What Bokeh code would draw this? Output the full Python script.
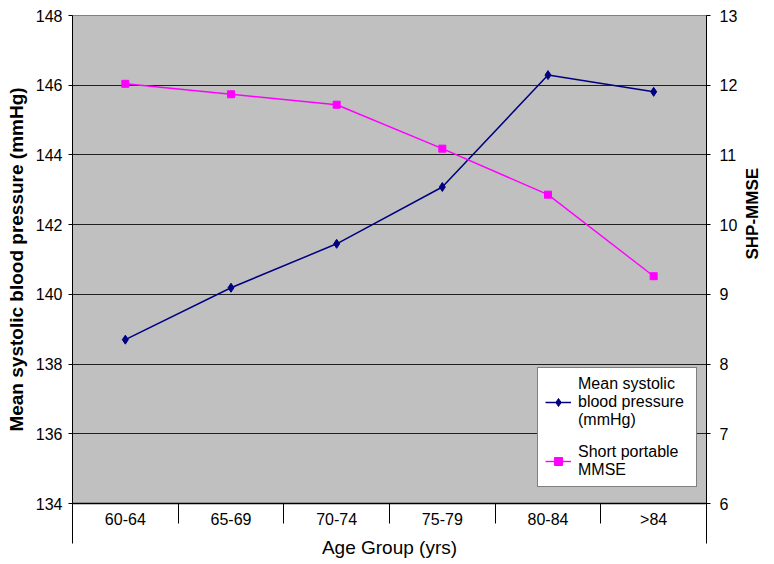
import math
from bokeh.plotting import figure
from bokeh.models import Range1d, LinearAxis, FixedTicker, Legend, LegendItem, Grid
from bokeh.embed import file_html
from bokeh.resources import INLINE

# ---- data ----
age_groups = ["60-64", "65-69", "70-74", "75-79", "80-84", ">84"]
mean_sbp = [138.70, 140.19, 141.45, 143.08, 146.29, 145.81]   # left axis (mmHg)
shp_mmse = [12.02, 11.87, 11.72, 11.09, 10.43, 9.26]           # right axis
left_ticks = [134, 136, 138, 140, 142, 144, 146, 148]
right_ticks = [6, 7, 8, 9, 10, 11, 12, 13]

FONT = "Liberation Sans"
n = len(age_groups)
xc = [i + 0.5 for i in range(n)]
bounds = list(range(n + 1))

p = figure(width=774, height=564, output_backend="svg", toolbar_location=None,
           x_range=Range1d(0, n), y_range=Range1d(left_ticks[0], left_ticks[-1]),
           min_border_left=72, min_border_right=63, min_border_top=15, min_border_bottom=61,
           x_axis_location=None, y_axis_location=None)
p.background_fill_color = "#C0C0C0"
p.border_fill_color = "white"
p.outline_line_color = "#808080"
p.outline_line_width = 1
p.extra_y_ranges = {"mmse": Range1d(right_ticks[0], right_ticks[-1])}

# left axis
ly = LinearAxis(ticker=FixedTicker(ticks=left_ticks, minor_ticks=[]),
                axis_label="Mean systolic blood pressure (mmHg)")
ly.axis_line_color = "black"
ly.major_tick_out = 4
ly.major_tick_in = 0
ly.major_tick_line_color = "black"
ly.major_label_standoff = 6
ly.major_label_text_font = FONT
ly.major_label_text_font_size = "16px"
ly.major_label_text_color = "black"
ly.axis_label_text_font = FONT
ly.axis_label_text_font_size = "19px"
ly.axis_label_text_font_style = "bold"
ly.axis_label_text_color = "black"
ly.axis_label_standoff = 6
p.add_layout(ly, "left")

# right axis
ry = LinearAxis(y_range_name="mmse", ticker=FixedTicker(ticks=right_ticks, minor_ticks=[]),
                axis_label="SHP-MMSE")
ry.axis_line_color = "black"
ry.major_tick_out = 4
ry.major_tick_in = 0
ry.major_tick_line_color = "black"
ry.major_label_standoff = 9
ry.major_label_text_font = FONT
ry.major_label_text_font_size = "16px"
ry.major_label_text_color = "black"
ry.axis_label_text_font = FONT
ry.axis_label_text_font_size = "17px"
ry.axis_label_text_font_style = "bold"
ry.axis_label_text_color = "black"
ry.axis_label_standoff = 12
ry.axis_label_orientation = math.pi / 2   # read bottom-to-top, like the reference
p.add_layout(ry, "right")

# category axis (labels in centres, separators at boundaries)
bx = LinearAxis(ticker=FixedTicker(ticks=xc, minor_ticks=bounds))
bx.major_label_overrides = {c: lab for c, lab in zip(xc, age_groups)}
bx.axis_line_color = "black"
bx.axis_line_width = 1.5
bx.major_tick_line_color = None
bx.major_tick_out = 0
bx.major_tick_in = 0
bx.minor_tick_line_color = "black"
bx.minor_tick_out = 20
bx.minor_tick_in = 0
bx.major_label_standoff = -13
bx.major_label_text_font = FONT
bx.major_label_text_font_size = "16px"
bx.major_label_text_color = "black"
p.add_layout(bx, "below")

# outer lines of the category box + axis title
bx2 = LinearAxis(ticker=FixedTicker(ticks=[bounds[0], bounds[-1]], minor_ticks=[]),
                 axis_label="Age Group (yrs)")
bx2.major_label_overrides = {bounds[0]: "", bounds[-1]: ""}
bx2.axis_line_color = None
bx2.major_tick_line_color = "black"
bx2.major_tick_in = 27
bx2.major_tick_out = 13
bx2.major_label_standoff = 0
bx2.major_label_text_font_size = "16px"
bx2.axis_label_text_font = FONT
bx2.axis_label_text_font_size = "19px"
bx2.axis_label_text_font_style = "normal"
bx2.axis_label_text_color = "black"
bx2.axis_label_standoff = -7
p.add_layout(bx2, "below")

# grid
p.ygrid.visible = False
p.xgrid.visible = False
g = Grid(dimension=1, ticker=FixedTicker(ticks=left_ticks[1:-1]))
g.grid_line_color = "#202020"
g.grid_line_width = 1
p.add_layout(g)

# series
l1 = p.line(xc, mean_sbp, line_color="#000080", line_width=1.5)
s1 = p.scatter(xc, mean_sbp, marker="diamond", size=9, fill_color="#000080", line_color="#000080")
l2 = p.line(xc, shp_mmse, line_color="#FF00FF", line_width=1.4, y_range_name="mmse")
s2 = p.scatter(xc, shp_mmse, marker="square", size=7, fill_color="#FF00FF", line_color="#FF00FF",
               y_range_name="mmse")

legend = Legend(items=[LegendItem(label="Mean systolic\nblood pressure\n(mmHg)", renderers=[l1, s1]),
                       LegendItem(label="Short portable\nMMSE", renderers=[l2, s2])],
                location=(465, 16))
legend.background_fill_color = "white"
legend.background_fill_alpha = 1
legend.border_line_color = "black"
legend.border_line_width = 1
legend.label_text_font = FONT
legend.label_text_font_size = "16px"
legend.label_text_line_height = 1.15
legend.label_text_color = "black"
legend.label_width = 111
legend.glyph_width = 26
legend.label_standoff = 7
legend.padding = 7
legend.spacing = 14
legend.margin = 0
p.add_layout(legend)

open("out.html", "w").write(file_html(p, INLINE))
